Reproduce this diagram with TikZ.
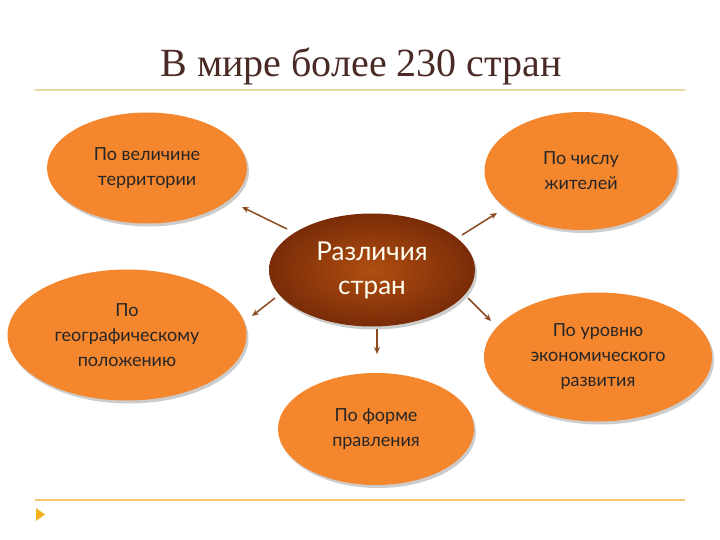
\documentclass[tikz,border=0pt]{standalone}
\usepackage{fontspec}
\setmainfont{Liberation Serif}
\newfontfamily\gill{Lato}
\usetikzlibrary{shapes.geometric,shadows,arrows.meta}
\definecolor{titlebrown}{HTML}{4A2A25}
\definecolor{goldline}{HTML}{E9D99C}
\definecolor{goldline2}{HTML}{F3C66E}
\definecolor{tri}{HTML}{F5B21C}
\definecolor{orfill}{HTML}{F4862E}
\definecolor{arr}{HTML}{8B4A1F}
\definecolor{cin}{HTML}{B04E10}
\definecolor{cout}{HTML}{7A2C08}
\begin{document}
\begin{tikzpicture}[x=1pt,y=-1pt,
  oval/.style={ellipse, minimum width=#1, inner sep=0pt, fill=orfill,
    drop shadow={shadow xshift=2pt,shadow yshift=-3pt,opacity=0.2,fill=black},
    font=\gill\fontsize{18}{25}\selectfont, text=black!85, align=center},
  conn/.style={draw=arr, line width=1.5pt, -{Stealth[length=7pt,width=6pt]}}]
\useasboundingbox (0,0) rectangle (720,540);
\node[font=\fontsize{40}{44}\selectfont, text=titlebrown] (title) at (361,66) {В мире более 230 стран};
\draw[goldline, line width=1.2pt] (35,90) -- (685,90);
\draw[goldline2, line width=1.2pt] (35,500) -- (685,500);
\fill[tri] (36,508) -- (45,514.5) -- (36,521) -- cycle;

\node[oval=200pt, minimum height=111pt] (terr) at (147,168) {По величине\\территории};
\node[oval=193pt, minimum height=118pt] (zhit) at (581,171) {По числу\\жителей};
\node[oval=239pt, minimum height=131pt] (geo) at (127,335) {По\\географическому\\положению};
\node[oval=228pt, minimum height=129pt] (econ) at (598,357) {По уровню\\экономического\\развития};
\node[oval=196pt, minimum height=112pt] (form) at (376,429) {По форме\\правления};

\node[ellipse, minimum width=206pt, minimum height=113pt, inner sep=0pt,
  inner color=cin, outer color=cout,
  drop shadow={shadow xshift=2pt,shadow yshift=-3pt,opacity=0.2,fill=black},
  font=\gill\fontsize{26}{34}\selectfont, text=white!95!yellow, align=center] (main) at (372,270) {Различия\\стран};

\coordinate (a1s) at (287,229); \coordinate (a1e) at (242,207);
\coordinate (a2s) at (462,235); \coordinate (a2e) at (497,213);
\coordinate (a3s) at (275,298); \coordinate (a3e) at (252,316);
\coordinate (a4s) at (377,329); \coordinate (a4e) at (377,354);
\coordinate (a5s) at (468,298); \coordinate (a5e) at (491,321);
\draw[conn] (a1s) -- (a1e);
\draw[conn] (a2s) -- (a2e);
\draw[conn] (a3s) -- (a3e);
\draw[conn] (a4s) -- (a4e);
\draw[conn] (a5s) -- (a5e);
\end{tikzpicture}
\end{document}
